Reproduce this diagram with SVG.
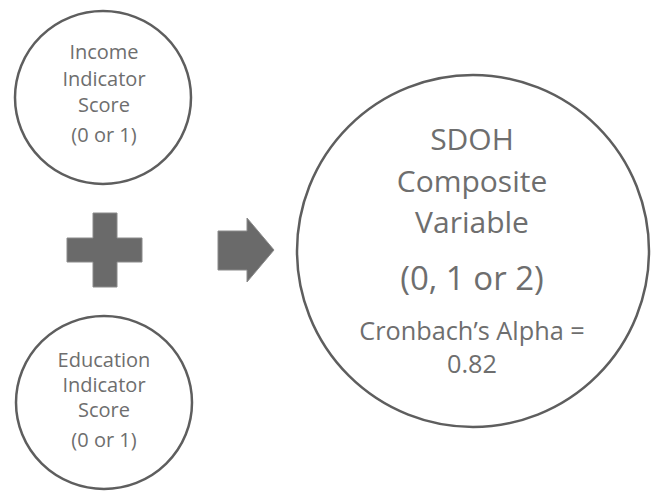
<svg xmlns="http://www.w3.org/2000/svg" width="651" height="491" viewBox="0 0 651 491">
<style>
.c{fill:#fff;stroke:#5e5e5e;stroke-width:2.5}
.s{fill:#6a6a6a;stroke:#8a8a8a;stroke-width:1}
text{font-family:"Open Sans","Liberation Sans",sans-serif;fill:#6e6e6e;text-anchor:middle}
.t{font-size:20px}
.b{font-size:30px}
.p{font-size:33px}
.m{font-size:25.3px}
</style>
<rect width="651" height="491" fill="#fff"/>
<g id="income">
<ellipse class="c" cx="103" cy="97.5" rx="88" ry="86.5"/>
<text class="t" x="104" y="59">Income</text>
<text class="t" x="104" y="86">Indicator</text>
<text class="t" x="104" y="112">Score</text>
<text class="t" x="104" y="142">(0 or 1)</text>
</g>
<g id="education">
<ellipse class="c" cx="104" cy="402.5" rx="88" ry="86.5"/>
<text class="t" x="104" y="367">Education</text>
<text class="t" x="104" y="392">Indicator</text>
<text class="t" x="104" y="417">Score</text>
<text class="t" x="104" y="447">(0 or 1)</text>
</g>
<g id="plus">
<path class="s" d="M93 213H117V238H142V262H117V287H93V262H67V238H93Z"/>
</g>
<g id="arrow">
<path class="s" d="M218 231H247V218L274 250L247 282V270H218Z"/>
</g>
<g id="composite">
<circle class="c" cx="473" cy="251" r="176"/>
<text class="b" x="472" y="150">SDOH</text>
<text class="b" x="472" y="192">Composite</text>
<text class="b" x="472" y="233">Variable</text>
<text class="p" x="472" y="290">(0, 1 or 2)</text>
<text class="m" x="472" y="340">Cronbach’s Alpha =</text>
<text class="m" x="472" y="373">0.82</text>
</g>
<g id="connectors"></g>
</svg>
